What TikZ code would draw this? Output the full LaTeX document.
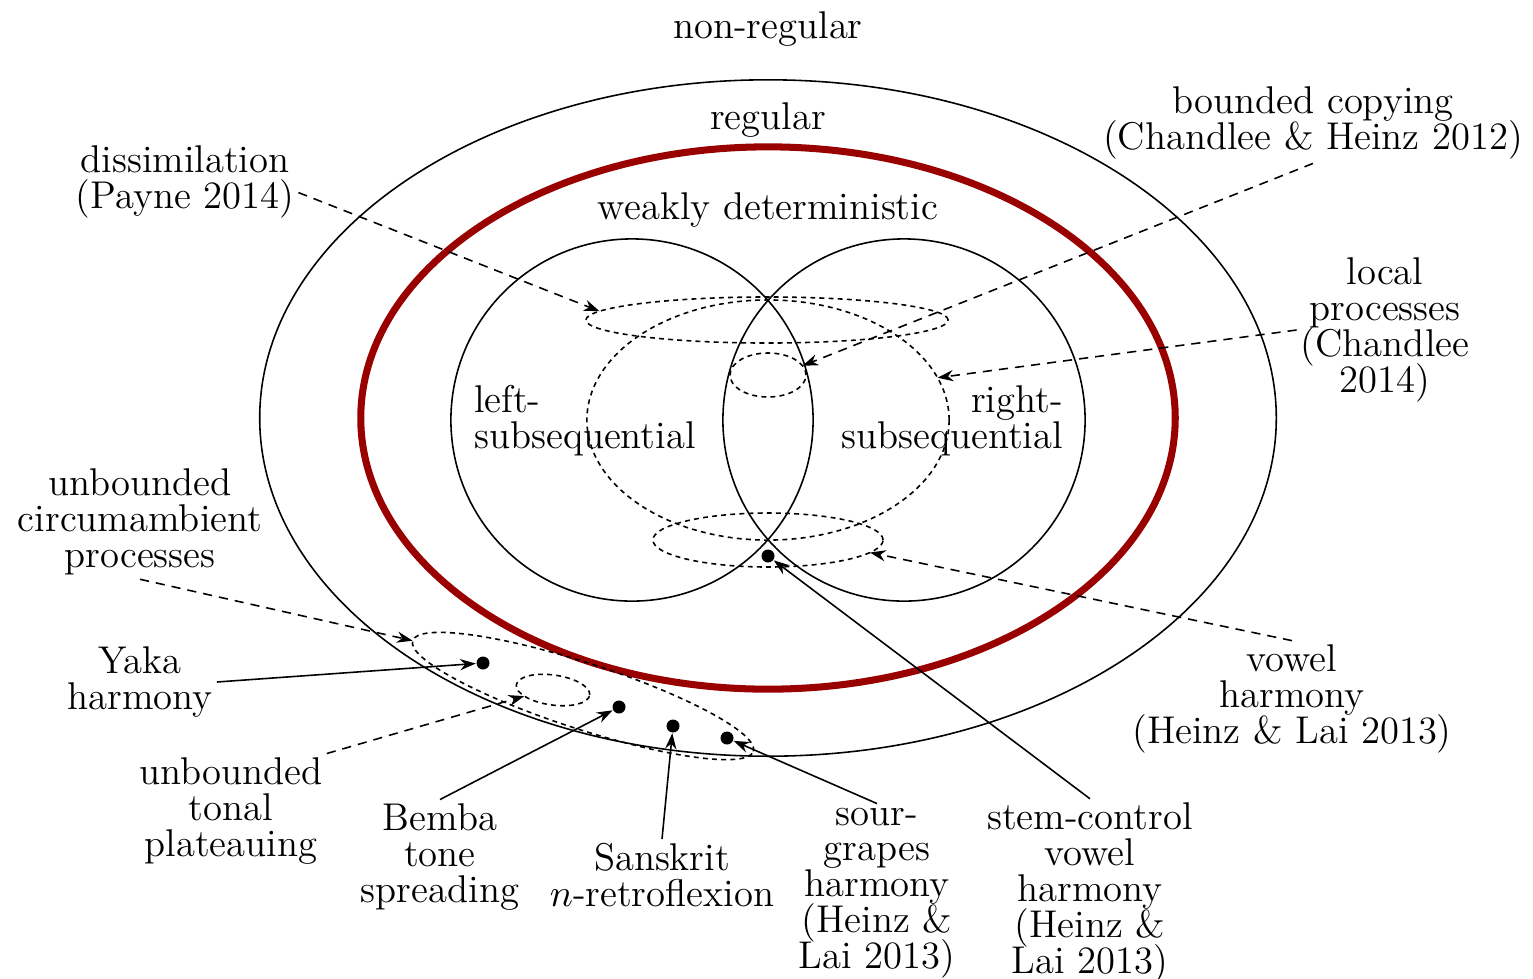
\documentclass[tikz,border=0pt]{standalone}
\usepackage{tikz}
\usetikzlibrary{positioning, shapes.geometric, arrows.meta}
\definecolor{wdred}{RGB}{153,0,0}
\usepackage{amsmath, amssymb}
\newcommand{\lblfont}{\fontsize{11}{10.2}\selectfont\lineskiplimit=-10pt\relax}

\begin{document}
\begin{tikzpicture}[x=0.01cm, y=-0.01cm, font=\lblfont,
            region/.style ={ellipse, draw, inner sep=0pt, outer sep=0pt, line width=0.45pt},
            patch/.style ={region, dash pattern=on 1.4pt off 1.2pt},
            dot/.style ={circle, fill, inner sep=0pt, minimum size=1.3mm},
            lbl/.style ={align=center, inner sep=1pt},
            link/.style ={draw, line width=0.45pt, -{Stealth[length=4.5pt, width=3.2pt]}},
            dlink/.style ={link, dash pattern=on 2.6pt off 2pt}]

        \useasboundingbox (0,0) rectangle (1533,978);

        %%--------------------------regiones--------------------------
        \node[region, minimum width=10.16cm, minimum height=6.76cm] (reg) at (768,418) {};
        \node[region, draw=wdred, line width=2pt, minimum width=8.14cm, minimum height=5.42cm] (wd) at (768,418) {};

        \node[region, circle, minimum size=3.62cm] (lsub) at (632,420) {};
        \node[region, circle, minimum size=3.62cm] (rsub) at (904,420) {};

        \node[patch, minimum width=3.62cm, minimum height=2.40cm] (mid) at (768,420) {};
        \node[patch, minimum width=3.62cm, minimum height=0.46cm] (flat) at (767,320) {};
        \node[patch, minimum width=0.76cm, minimum height=0.44cm] (loc) at (768,375) {};
        \node[patch, minimum width=2.30cm, minimum height=0.54cm] (low) at (768,540) {};
        \node[patch, rotate=-18, minimum width=3.58cm, minimum height=0.66cm] (band) at (583,696) {};
        \node[patch, rotate=-8, minimum width=0.74cm, minimum height=0.30cm] (pool) at (553,690) {};

        \node[dot] (yakaD) at (483,663) {};
        \node[dot] (bembaD) at (619,707) {};
        \node[dot] (sansD) at (673,726) {};
        \node[dot] (sourD) at (727,738) {};
        \node[dot] (stemD) at (768,556) {};

        %%--------------------------etiquetas--------------------------
        \node[lbl] (nonreg) at (768,29) {non-regular};
        \node[lbl] (regL) at (768,120) {regular};
        \node[lbl] (wdL) at (768,210) {weakly deterministic};
        \node[lbl, align=left, anchor=west] (lsubL) at (470,421) {left-\\subsequential};
        \node[lbl, align=right, anchor=east] (rsubL) at (1067,421) {right-\\subsequential};

        \node[lbl] (diss) at (185,182) {dissimilation\\(Payne 2014)};
        \node[lbl] (copy) at (1313,123) {bounded copying\\(Chandlee \& Heinz 2012)};
        \node[lbl] (local) at (1385,330) {local\\processes\\(Chandlee\\2014)};
        \node[lbl] (circum) at (140,522) {unbounded\\circumambient\\processes};
        \node[lbl] (yaka) at (140,682) {Yaka\\harmony};
        \node[lbl] (tonal) at (231,811) {unbounded\\tonal\\plateauing};
        \node[lbl] (bemba) at (440,857) {Bemba\\tone\\spreading};
        \node[lbl] (sans) at (662,875) {Sanskrit\\$n$-retroflexion};
        \node[lbl] (sour) at (877,893) {sour-\\grapes\\harmony\\(Heinz \&\\Lai 2013)};
        \node[lbl] (stem) at (1090,893) {stem-control\\vowel\\harmony\\(Heinz \&\\Lai 2013)};
        \node[lbl] (vowel) at (1292,699) {vowel\\harmony\\(Heinz \& Lai 2013)};

        %%--------------------------caminos--------------------------
        \path ([yshift=-3pt]diss.east) edge[dlink] (flat.177);
        \path (copy.south) edge[dlink] (loc.15);
        \path (local.west) edge[dlink] (mid.14);
        \path (vowel.north) edge[dlink] (low.-7);
        \path (circum.south) edge[dlink] (band.west);
        \path (tonal.north east) edge[dlink] (pool.200);

        \path (yaka.east) edge[link] (yakaD);
        \path (bemba.north) edge[link] (bembaD);
        \path (sans.north) edge[link] (sansD);
        \path (sour.north) edge[link] (sourD);
        \path (stem.north) edge[link] (stemD);

    \end{tikzpicture}
\end{document}
